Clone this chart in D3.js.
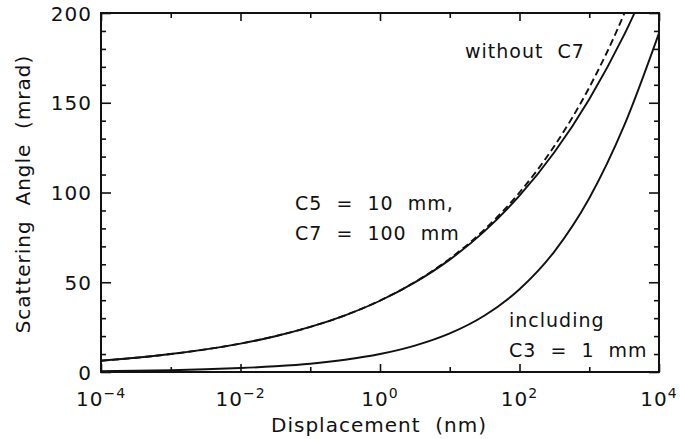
<!DOCTYPE html>
<html>
<head>
<meta charset="utf-8">
<script src="https://cdn.jsdelivr.net/npm/d3@7"></script>
<style>
  body { margin: 0; background: #fff; }
  svg text { font-family: "DejaVu Sans", sans-serif; fill: #111; letter-spacing: 1px; white-space: pre; }
</style>
</head>
<body>
<div id="chart"></div>
<script>
// displacement in nm, half-decade steps
const displacement = [1e-4, 3.16e-4, 1e-3, 3.16e-3, 1e-2, 3.16e-2, 0.1, 0.316, 1, 3.16, 10, 31.6, 100, 316, 1000, 3162, 10000];
// scattering angle in mrad
const withoutC7 = [6.3, 7.9, 10.0, 12.6, 15.8, 20.0, 25.1, 31.6, 39.8, 50.1, 63.1, 79.4, 100, 125.9, 158.5, 199.5, 251.2];
const withC5C7 = [6.3, 7.9, 10.0, 12.6, 15.8, 19.9, 25.1, 31.6, 39.7, 49.9, 62.6, 78.5, 98.2, 122.4, 152.0, 187.8, 230.7];
const withC3 = [0.5, 0.7, 1.0, 1.5, 2.2, 3.2, 4.6, 6.8, 10.0, 14.7, 21.5, 31.5, 46.1, 67.1, 96.8, 137.2, 188.8];

const xMajor = [1e-4, 1e-2, 1, 1e2, 1e4];
const xMinor = [1e-3, 1e-1, 1e1, 1e3];
const xExp = ["−4", "−2", "0", "2", "4"];
const yMajor = [0, 50, 100, 150, 200];
const yMinor = d3.range(0, 201, 10).filter(v => v % 50 !== 0);

const width = 680, height = 439;
const margin = { top: 13, right: 21, bottom: 67, left: 101 };
const w = width - margin.left - margin.right,
  h = height - margin.top - margin.bottom;

const svg = d3.select("#chart").append("svg")
  .attr("width", width)
  .attr("height", height);

const g = svg.append("g").attr("transform", `translate(${margin.left},${margin.top})`);

const x = d3.scaleLog().domain([1e-4, 1e4]).range([0, w]);
const y = d3.scaleLinear().domain([0, 200]).range([h, 0]);

g.append("clipPath").attr("id", "clip")
  .append("rect").attr("width", w).attr("height", h);

const line = d3.line()
  .x(d => x(d[0]))
  .y(d => y(d[1]))
  .curve(d3.curveMonotoneX);

const series = [
  { vals: withoutC7, dash: "7,4" },
  { vals: withC5C7, dash: null },
  { vals: withC3, dash: null }
];

g.append("g").attr("clip-path", "url(#clip)")
  .selectAll("path")
  .data(series)
  .join("path")
  .attr("d", s => line(displacement.map((d, i) => [d, s.vals[i]])))
  .attr("fill", "none")
  .attr("stroke", "#111")
  .attr("stroke-width", 1.9)
  .attr("stroke-dasharray", s => s.dash);

function styleAxis(sel) {
  sel.select(".domain").remove();
  sel.selectAll("line").attr("stroke", "#111").attr("stroke-width", 1.6);
  sel.selectAll("text").attr("font-size", 20).attr("fill", "#111");
}

// left axis
g.append("g").call(d3.axisLeft(y).tickValues(yMajor).tickSize(-10).tickPadding(9))
  .call(styleAxis)
  .selectAll("text").attr("dy", "0.36em");
g.append("g").call(d3.axisLeft(y).tickValues(yMinor).tickSize(-5).tickFormat(""))
  .call(styleAxis);
// right axis
g.append("g").attr("transform", `translate(${w},0)`)
  .call(d3.axisRight(y).tickValues(yMajor).tickSize(-10).tickFormat(""))
  .call(styleAxis);
g.append("g").attr("transform", `translate(${w},0)`)
  .call(d3.axisRight(y).tickValues(yMinor).tickSize(-5).tickFormat(""))
  .call(styleAxis);
// bottom axis
g.append("g").attr("transform", `translate(0,${h})`)
  .call(d3.axisBottom(x).tickValues(xMajor).tickSize(-8).tickFormat(""))
  .call(styleAxis);
g.append("g").attr("transform", `translate(0,${h})`)
  .call(d3.axisBottom(x).tickValues(xMinor).tickSize(-5).tickFormat(""))
  .call(styleAxis);
// top axis
g.append("g")
  .call(d3.axisTop(x).tickValues(xMajor).tickSize(-8).tickFormat(""))
  .call(styleAxis);
g.append("g")
  .call(d3.axisTop(x).tickValues(xMinor).tickSize(-5).tickFormat(""))
  .call(styleAxis);

// frame
g.append("rect")
  .attr("width", w).attr("height", h)
  .attr("fill", "none").attr("stroke", "#111").attr("stroke-width", 2);

// x tick labels with superscripts
const xl = g.append("g").selectAll("text")
  .data(xMajor)
  .join("text")
  .attr("x", d => x(d))
  .attr("y", h + 34)
  .attr("text-anchor", "middle")
  .attr("font-size", 20);
xl.append("tspan").text("10");
xl.append("tspan").attr("dy", -8).attr("font-size", 14).text((d, i) => xExp[i]);

// axis titles
svg.append("text")
  .attr("x", margin.left + w / 2 - 1)
  .attr("y", 432)
  .attr("text-anchor", "middle")
  .attr("font-size", 20)
  .text("Displacement  (nm)");

svg.append("text")
  .attr("transform", "translate(30,194) rotate(-90)")
  .attr("text-anchor", "middle")
  .attr("font-size", 20)
  .text("Scattering  Angle  (mrad)");

// annotations
const notes = [
  { t: "without  C7", x: 465, y: 58 },
  { t: "C5  =  10  mm,", x: 295, y: 210 },
  { t: "C7  =  100  mm", x: 295, y: 240 },
  { t: "including", x: 509, y: 327 },
  { t: "C3  =  1  mm", x: 509, y: 357 }
];
svg.append("g").selectAll("text")
  .data(notes)
  .join("text")
  .attr("x", d => d.x)
  .attr("y", d => d.y)
  .attr("font-size", 19)
  .text(d => d.t);
</script>
</body>
</html>
